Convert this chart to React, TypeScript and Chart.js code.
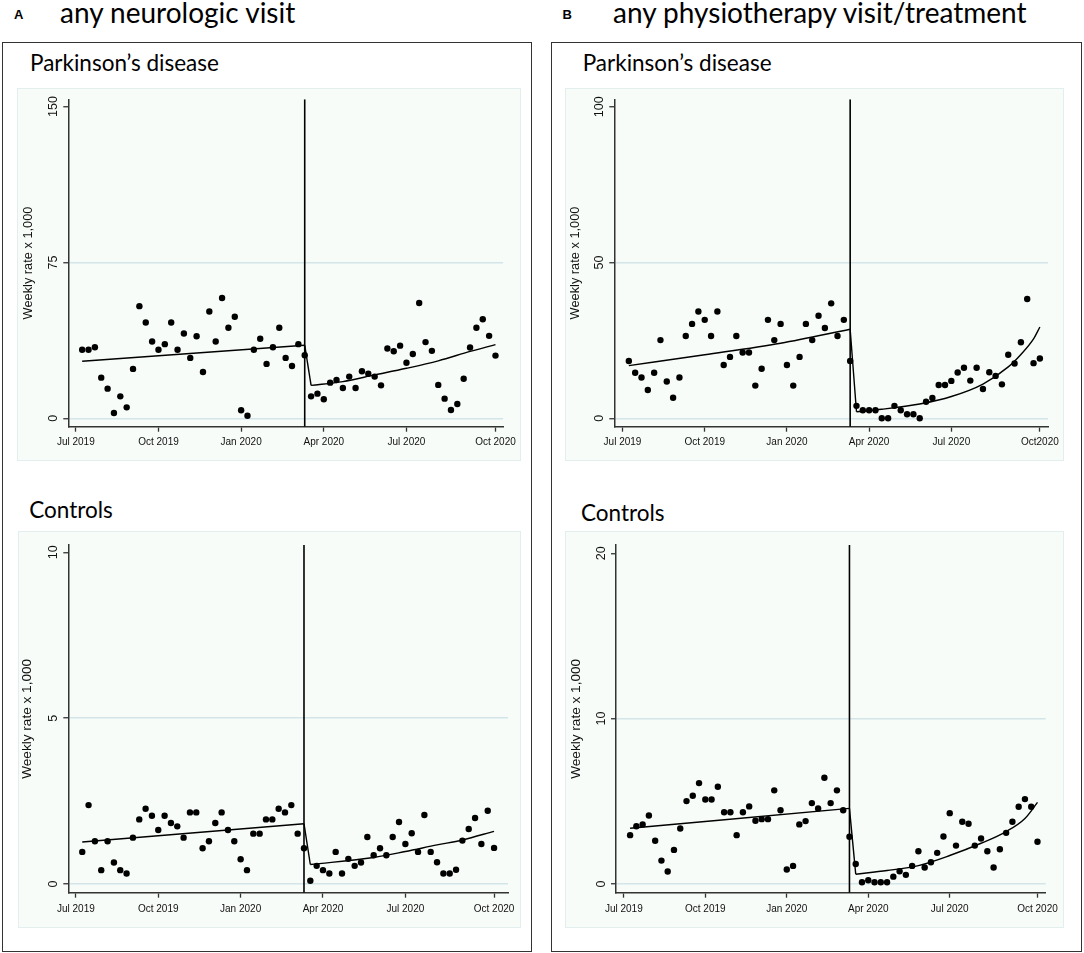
import { useEffect, useRef } from 'react';
import { Chart, registerables } from 'chart.js';

Chart.register(...registerables);

// weekly rates x 1,000; index 0 = first week of July 2019, index 35 = lockdown week (Mar 2020)
const neuroPD = [
  33.0, 33.0, 34.2, 19.6, 14.3, 2.6, 10.6, 5.3, 23.8, 54.0,
  46.1, 37.0, 33.0, 35.7, 46.1, 33.0, 40.8, 29.1, 39.5, 22.3,
  51.4, 37.0, 57.9, 43.6, 48.9, 3.9, 1.3, 33.0, 38.3, 26.2,
  34.2, 43.6, 29.1, 25.2, 35.7, 30.4,
  10.6, 11.9, 9.2, 17.2, 18.5, 14.6, 20.1, 14.6, 22.7, 21.5,
  20.1, 15.9, 33.6, 32.3, 35.0, 26.8, 31.0, 55.5, 36.7, 32.5,
  16.1, 9.5, 4.0, 6.9, 19.1, 34.1, 43.6, 47.7, 39.7, 30.2,
];

const neuroCtrl = [
  0.97, 2.38, 1.29, 0.42, 1.29, 0.65, 0.42, 0.32, 1.4, 1.95,
  2.27, 2.06, 1.63, 2.06, 1.84, 1.74, 1.4, 2.16, 2.16, 1.08,
  1.29, 1.84, 2.16, 1.63, 1.29, 0.75, 0.42, 1.52, 1.52, 1.95,
  1.95, 2.27, 2.16, 2.38, 1.52, 1.08,
  0.1, 0.55, 0.42, 0.32, 0.97, 0.32, 0.76, 0.55, 0.65, 1.42,
  0.87, 1.08, 0.87, 1.42, 1.87, 1.21, 1.53, 0.97, 2.08, 0.97,
  0.66, 0.32, 0.32, 0.43, 1.31, 1.66, 1.99, 1.21, 2.21, 1.09,
];

const physioPD = [
  18.4, 14.6, 13.1, 9.1, 14.6, 25.1, 11.8, 6.6, 13.1, 26.4,
  30.3, 34.3, 31.6, 26.4, 34.3, 17.1, 19.7, 26.4, 21.1, 21.1,
  10.5, 15.9, 31.6, 25.1, 30.3, 17.1, 10.5, 19.7, 30.3, 25.1,
  32.9, 29.0, 36.9, 26.4, 31.6, 18.4,
  4.0, 2.6, 2.6, 2.6, 0, 0, 4.0, 2.6, 1.3, 1.3,
  0, 5.3, 6.5, 10.7, 10.7, 12.0, 14.7, 16.2, 12.1, 16.2,
  9.4, 14.8, 13.6, 10.9, 20.4, 17.6, 24.4, 38.3, 17.7, 19.2,
];

const physioCtrl = [
  2.95, 3.49, 3.6, 4.14, 2.61, 1.41, 0.75, 2.06, 3.35, 5.01,
  5.33, 6.1, 5.11, 5.11, 5.88, 4.34, 4.34, 2.95, 4.34, 4.69,
  3.82, 3.92, 3.92, 5.66, 4.46, 0.87, 1.09, 3.6, 3.8, 4.89,
  4.57, 6.42, 4.89, 5.66, 4.46, 2.85,
  1.21, 0.1, 0.22, 0.1, 0.1, 0.1, 0.44, 0.77, 0.55, 1.09,
  1.98, 0.99, 1.31, 1.88, 2.87, 4.28, 2.32, 3.76, 3.64, 2.32,
  2.75, 1.98, 0.99, 2.1, 3.09, 3.76, 4.67, 5.13, 4.67, 2.55,
];

// fitted segmented regression, [week, rate], before and after the break
const neuroPDPre = [[0, 27.5], [35, 35.2]];
const neuroPDPost = [[36, 15.9], [41, 17.7], [46, 20.9], [51, 24.1], [56, 27.7], [61, 32.2], [65, 35.5]];
const neuroCtrlPre = [[0, 1.27], [35, 1.82]];
const neuroCtrlPost = [[36, 0.59], [46, 0.8], [51, 0.98], [56, 1.18], [60, 1.33], [65, 1.59]];
const physioPDPre = [[0, 16.9], [12, 20.4], [24, 24.1], [35, 28.6]];
const physioPDPost = [[36, 2.1], [40, 2.9], [46, 4.6], [51, 7.0], [56, 11.0], [60, 16.5], [62, 20.5], [64, 25.5], [65, 29.3]];
const physioCtrlPre = [[0, 3.37], [35, 4.57]];
const physioCtrlPost = [[36, 0.59], [41, 0.81], [46, 1.11], [51, 1.72], [56, 2.46], [60, 3.17], [63, 3.96], [65, 4.93]];

const tickWeeks = [-1, 12, 25, 38, 51, 65];
const tickLabels = ['Jul 2019', 'Oct 2019', 'Jan 2020', 'Apr 2020', 'Jul 2020', 'Oct 2020'];
const tickLabelsB = ['Jul 2019', 'Oct 2019', 'Jan 2020', 'Apr 2020', 'Jul 2020', 'Oct2020'];
const breakWeek = 35;

const AXIS = '#333';
const GRID = '#d3e5e8';
const BG = '#f7fcf8';
const ARIAL = '"Liberation Sans", Arial, sans-serif';

const rotatedYLabels = {
  id: 'rotatedYLabels',
  afterDraw(chart: any, _args: any, opts: any) {
    const y = chart.scales.y;
    const ctx = chart.ctx;
    ctx.save();
    ctx.fillStyle = '#111';
    ctx.font = `${opts.size}px ${ARIAL}`;
    ctx.textAlign = 'center';
    ctx.textBaseline = 'middle';
    for (const t of y.ticks) {
      ctx.save();
      ctx.translate(chart.chartArea.left - 14.8, y.getPixelForValue(t.value));
      ctx.rotate(-Math.PI / 2);
      ctx.fillText(String(t.value), 0, 0);
      ctx.restore();
    }
    ctx.restore();
  },
};

interface PanelProps {
  values: number[];
  pre: number[][];
  post: number[][];
  yTicks: number[];
  yRange: [number, number];
  xRange: [number, number];
  labels: string[];
  box: { left: number; top: number; width: number; height: number };
  inset: { left: number; top: number; right: number; bottom: number };
  titleSize: number;
  titleX: number;
  labelPad: number;
}

function Panel({ values, pre, post, yTicks, yRange, xRange, labels, box, inset, titleSize, titleX, labelPad }: PanelProps) {
  const canvasRef = useRef<HTMLCanvasElement>(null);
  const chartRef = useRef<Chart | null>(null);

  useEffect(() => {
    if (!canvasRef.current) return;
    if (chartRef.current) chartRef.current.destroy();

    const yMax = yTicks[yTicks.length - 1];
    const fitLine = (pts: number[][]) => ({
      data: pts.map(([x, y]) => ({ x, y })),
      showLine: true,
      borderColor: '#000',
      borderWidth: 1.4,
      pointRadius: 0,
      cubicInterpolationMode: 'monotone' as const,
    });

    chartRef.current = new Chart(canvasRef.current, {
      type: 'scatter',
      data: {
        datasets: [
          {
            data: [{ x: breakWeek, y: yRange[0] }, { x: breakWeek, y: yRange[1] }],
            showLine: true,
            borderColor: '#000',
            borderWidth: 1.6,
            pointRadius: 0,
          },
          fitLine(pre),
          fitLine([pre[pre.length - 1], post[0]]),
          fitLine(post),
          {
            data: values.map((v, i) => ({ x: i, y: v })),
            pointRadius: 3.2,
            pointBackgroundColor: '#000',
            pointBorderWidth: 0,
            showLine: false,
          },
        ],
      },
      options: {
        responsive: true,
        maintainAspectRatio: false,
        animation: false,
        events: [],
        layout: { padding: { left: 0, top: inset.top, right: inset.right, bottom: 0 } },
        plugins: {
          legend: { display: false },
          tooltip: { enabled: false },
          rotatedYLabels: { size: 12.5 },
        } as any,
        scales: {
          x: {
            type: 'linear',
            min: xRange[0],
            max: xRange[1],
            afterBuildTicks: (s: any) => {
              s.ticks = tickWeeks.map((v) => ({ value: v }));
            },
            afterFit: (s: any) => {
              s.height = inset.bottom;
            },
            ticks: {
              autoSkip: false,
              maxRotation: 0,
              minRotation: 0,
              padding: labelPad,
              color: '#111',
              font: { family: ARIAL, size: 10 },
              callback: (v: any) => labels[tickWeeks.indexOf(Number(v))] ?? '',
            },
            grid: { drawOnChartArea: false, drawTicks: true, tickLength: 5, tickColor: AXIS, tickWidth: 1.3 },
            border: { color: AXIS, width: 1.5 },
          },
          y: {
            type: 'linear',
            min: yRange[0],
            max: yRange[1],
            afterBuildTicks: (s: any) => {
              s.ticks = yTicks.map((v) => ({ value: v }));
            },
            afterFit: (s: any) => {
              s.width = inset.left;
            },
            ticks: { display: false },
            grid: {
              color: (c: any) => (c.tick && c.tick.value === yMax ? 'rgba(0,0,0,0)' : GRID),
              lineWidth: 1.5,
              drawTicks: true,
              tickLength: 5,
              tickColor: AXIS,
              tickWidth: 1.3,
            },
            border: { color: AXIS, width: 1.5 },
            title: {
              display: true,
              text: 'Weekly rate x 1,000',
              color: '#111',
              font: { family: ARIAL, size: titleSize },
              padding: { top: titleX - (titleSize * 1.2) / 2, bottom: 0 },
            },
          },
        },
      },
      plugins: [rotatedYLabels as any],
    });

    return () => {
      chartRef.current?.destroy();
      chartRef.current = null;
    };
  }, [values, pre, post, yTicks, yRange, xRange, labels, inset, titleSize, titleX, labelPad]);

  return (
    <div
      style={{
        position: 'absolute',
        left: box.left,
        top: box.top,
        width: box.width,
        height: box.height,
        background: BG,
        boxShadow: 'inset 0 0 0 1px #e3eeee',
      }}
    >
      <canvas ref={canvasRef} />
    </div>
  );
}

const heading = (text: string, left: number, top: number, size: number) => (
  <div
    style={{
      position: 'absolute',
      left,
      top,
      fontFamily: 'Lato, "Noto Sans", sans-serif',
      fontSize: size,
      lineHeight: `${size}px`,
      color: '#000',
      whiteSpace: 'nowrap',
    }}
  >
    {text}
  </div>
);

const letter = (text: string, left: number) => (
  <div
    style={{
      position: 'absolute',
      left,
      top: 7.5,
      fontFamily: ARIAL,
      fontWeight: 'bold',
      fontSize: 13,
      lineHeight: '13px',
      color: '#000',
    }}
  >
    {text}
  </div>
);

const frame = (left: number, width: number) => (
  <div
    style={{
      position: 'absolute',
      left,
      top: 42,
      width,
      height: 910,
      boxSizing: 'border-box',
      border: '1.8px solid #333',
    }}
  />
);

export default function App() {
  return (
    <div style={{ position: 'absolute', left: 0, top: 0, width: 1084, height: 953, background: '#fff', overflow: 'hidden' }}>
      {letter('A', 14)}
      {heading('any neurologic visit', 60, -2, 28)}
      {letter('B', 562.6)}
      {heading('any physiotherapy visit/treatment', 613, -2, 28)}
      {frame(2, 530)}
      {frame(551, 531)}
      {heading('Parkinson’s disease', 30, 51.7, 22.5)}
      {heading('Parkinson’s disease', 582.7, 51.7, 22.5)}
      {heading('Controls', 29.3, 498.5, 22.5)}
      {heading('Controls', 581, 502, 22.5)}
      <Panel
        values={neuroPD}
        pre={neuroPDPre}
        post={neuroPDPost}
        yTicks={[0, 75, 150]}
        yRange={[-4.0, 153.5]}
        xRange={[-2.18, 66.2]}
        labels={tickLabels}
        box={{ left: 17, top: 88, width: 504, height: 373 }}
        inset={{ left: 51.3, top: 11.3, right: 13, bottom: 34.3 }}
        titleSize={12.8}
        titleX={11.3}
        labelPad={5}
      />
      <Panel
        values={physioPD}
        pre={physioPDPre}
        post={physioPDPost}
        yTicks={[0, 50, 100]}
        yRange={[-2.7, 102.4]}
        xRange={[-2.3, 66.3]}
        labels={tickLabelsB}
        box={{ left: 565, top: 88, width: 499, height: 373 }}
        inset={{ left: 49.3, top: 11.3, right: 12.3, bottom: 34.3 }}
        titleSize={12.8}
        titleX={10}
        labelPad={5}
      />
      <Panel
        values={neuroCtrl}
        pre={neuroCtrlPre}
        post={neuroCtrlPost}
        yTicks={[0, 5, 10]}
        yRange={[-0.26, 10.22]}
        xRange={[-2.2, 67.2]}
        labels={tickLabels}
        box={{ left: 18, top: 531, width: 503, height: 397 }}
        inset={{ left: 50.3, top: 14, right: 13, bottom: 35.3 }}
        titleSize={13.6}
        titleX={9.5}
        labelPad={6}
      />
      <Panel
        values={physioCtrl}
        pre={physioCtrlPre}
        post={physioCtrlPost}
        yTicks={[0, 10, 20]}
        yRange={[-0.53, 20.5]}
        xRange={[-2.25, 66.3]}
        labels={tickLabels}
        box={{ left: 565, top: 531, width: 499, height: 397 }}
        inset={{ left: 51, top: 14, right: 12.3, bottom: 35.3 }}
        titleSize={13.6}
        titleX={11.7}
        labelPad={6}
      />
    </div>
  );
}
